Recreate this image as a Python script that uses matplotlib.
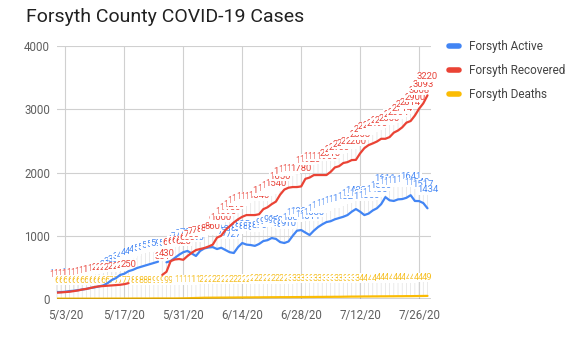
import matplotlib
matplotlib.use("Agg")
import matplotlib.pyplot as plt
import numpy as np
import pandas as pd

nan = np.nan

dates = pd.date_range("2020-05-01", "2020-07-28", freq="D")

active = [110, 110, 115, 125, 130, 140, 150, 160, 175, 185,
          200, 215, 250, 300, 330, 380, 400, 440, 460, 490,
          510, 530, 550, 570, 590, nan, 580, 600, 650, 700,
          740, 760, 720, 680, 760, 800, 815, 820, 790, 810,
          775, 740, 727, 820, 885, 860, 853, 840, 870, 916,
          930, 964, 950, 900, 885, 910, 1000, 1080, 1090, 1050,
          1011, 1080, 1137, 1180, 1216, 1230, 1260, 1280, 1300, 1327,
          1380, 1422, 1380, 1327, 1350, 1400, 1435, 1500, 1611, 1560,
          1550, 1575, 1580, 1600, 1641, 1550, 1548, 1517, 1434]

recovered = [100, 105, 110, 115, 125, 135, 150, 160, 175, 190,
             200, 205, 210, 215, 220, 225, 235, 250, nan, nan,
             nan, nan, nan, nan, nan, 381, 430, 600, 625, 632,
             620, 680, 730, 774, 790, 806, 830, 860, 970, 1000,
             1090, 1150, 1210, 1260, 1300, 1327, 1327, 1327, 1340, 1420,
             1450, 1500, 1540, 1650, 1730, 1760, 1770, 1770, 1780, 1900,
             1920, 1959, 1960, 1960, 1960, 2010, 2080, 2100, 2150, 2164,
             2196, 2200, 2303, 2385, 2433, 2460, 2490, 2533, 2533, 2560,
             2630, 2664, 2714, 2788, 2814, 2900, 3008, 3093, 3220]

deaths = [6, 6, 6, 6, 6, 6, 6, 6, 6, 6,
          6, 6, 6, 7, 7, 7, 7, 7, 8, 8,
          8, 8, 8, 9, 9, 9, 9, 9, 9, 10,
          11, 12, 14, 16, 18, 20, 20, 21, 21, 22,
          22, 23, 23, 24, 24, 25, 25, 26, 26, 27,
          27, 28, 28, 29, 29, 29, 30, 30, 31, 31,
          32, 32, 33, 33, 34, 34, 35, 35, 36, 37,
          38, 38, 39, 40, 40, 41, 41, 42, 42, 43,
          43, 44, 44, 45, 45, 46, 47, 48, 49]

series_names = ["Forsyth Active", "Forsyth Recovered", "Forsyth Deaths"]
series_colors = ["#4285F4", "#EA4335", "#FBBC04"]
label_colors = ["#4a8af4", "#e8453c", "#f6c026"]

tick_dates = pd.to_datetime(["2020-05-03", "2020-05-17", "2020-05-31", "2020-06-14",
                             "2020-06-28", "2020-07-12", "2020-07-26"])
tick_labels = ["5/3/20", "5/17/20", "5/31/20", "6/14/20", "6/28/20", "7/12/20", "7/26/20"]
y_ticks = [0, 1000, 2000, 3000, 4000]

plt.rcParams["font.family"] = ["Roboto", "DejaVu Sans"]

fig = plt.figure(figsize=(5.84, 3.6), dpi=100)
ax = fig.add_axes([57 / 584, 61 / 360, (431 - 57) / 584, 253 / 360])

for spine in ax.spines.values():
    spine.set_visible(False)
ax.axhline(0, color="#333333", lw=1.0, zorder=5)

ax.set_xlim(dates[0], dates[-1] + pd.Timedelta(hours=20))
ax.set_ylim(0, 4000)
ax.set_yticks(y_ticks)
ax.set_yticklabels([str(v) for v in y_ticks])
ax.set_xticks(tick_dates)
ax.set_xticklabels(tick_labels)
ax.tick_params(length=0, labelsize=8.3, colors="#5f5f5f", pad=5)
ax.tick_params(axis="x", pad=7)
ax.grid(True, color="#d0d0d0", lw=0.8, zorder=0)

all_series = [active, recovered, deaths]
label_offset = 10  # points between a value and the bottom of its label

# leader lines first, then the labels on top of them
for values in all_series:
    for d, v in zip(dates, values):
        if np.isnan(v):
            continue
        ax.annotate("", xy=(d, v), xytext=(0, label_offset), textcoords="offset points",
                    arrowprops=dict(arrowstyle="-", color="#e2e2e2", lw=0.5,
                                    shrinkA=0, shrinkB=0),
                    zorder=1, annotation_clip=False)

for values, lc in zip(all_series, label_colors):
    for d, v in zip(dates, values):
        if np.isnan(v):
            continue
        ax.annotate(f"{int(v)}", xy=(d, v), xytext=(0, label_offset), textcoords="offset points",
                    ha="center", va="bottom", fontsize=6.8, color=lc,
                    bbox=dict(facecolor="white", edgecolor="none", pad=0.2),
                    zorder=2, annotation_clip=False)

for values, name, color in zip(all_series, series_names, series_colors):
    ax.plot(dates, values, color=color, lw=1.6, label=name, zorder=4,
            solid_capstyle="round")

fig.text(26 / 584, 1 - 17 / 360, "Forsyth County COVID-19 Cases", fontsize=14,
         color="#212121", va="center", ha="left")

leg = fig.legend(loc="upper left", bbox_to_anchor=(444 / 584, 1 - 35 / 360),
                 frameon=False, fontsize=8.5, handlelength=0.9, handletextpad=0.8,
                 labelspacing=0.95, borderaxespad=0)
for line in leg.get_lines():
    line.set_linewidth(4)
for text in leg.get_texts():
    text.set_color("#444444")

fig.savefig("out.png", dpi=100)
